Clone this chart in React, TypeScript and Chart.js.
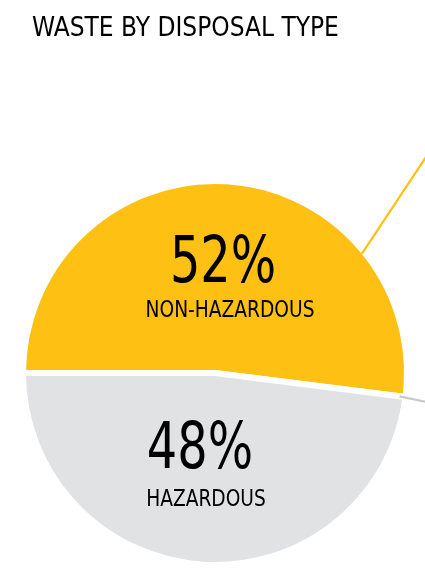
import React, { useEffect, useRef } from "react";
import { Chart, registerables } from "chart.js";

Chart.register(...registerables);

const title = "WASTE BY DISPOSAL TYPE";
const categories = ["NON-HAZARDOUS", "HAZARDOUS"];
const shares = [52, 48];
const colors = ["#FDC013", "#E1E2E4"];
const leaderColors = ["#FDC013", "#C9CACC"];

const FONT = '"Liberation Sans Narrow", "DejaVu Sans Condensed", "Roboto", sans-serif';

function drawNarrow(ctx: any, text: string, x: number, y: number, sx: number) {
  ctx.save();
  ctx.translate(x, y);
  ctx.scale(sx, 1);
  ctx.fillText(text, 0, 0);
  ctx.restore();
}

const labelPlugin = {
  id: "sliceLabels",
  afterDatasetsDraw(chart: any, _a: any, opts: any) {
    const ctx = chart.ctx;
    const meta = chart.getDatasetMeta(0);
    meta.data.forEach((arc: any, i: number) => {
      const p = arc.tooltipPosition();
      const o = opts.offsets[i];
      ctx.save();
      ctx.fillStyle = "#000";
      ctx.textAlign = "center";
      ctx.textBaseline = "alphabetic";
      ctx.font = `64px ${FONT}`;
      drawNarrow(ctx, `${shares[i]}%`, p.x + o.num, p.y + o.numY, 0.83);
      ctx.font = `23px ${FONT}`;
      drawNarrow(ctx, categories[i], p.x + o.cat, p.y + o.catY, 0.9);
      ctx.restore();
    });
  },
};

// leader lines: start at a fraction along each arc's outer edge, head off in a direction
const leaderPlugin = {
  id: "leaders",
  afterDatasetsDraw(chart: any, _args: any, opts: any) {
    const ctx = chart.ctx;
    const meta = chart.getDatasetMeta(0);
    (opts.lines || []).forEach((l: any) => {
      const arc = meta.data[l.index];
      if (!arc) return;
      const { x, y, startAngle, endAngle, outerRadius } = arc.getProps(
        ["x", "y", "startAngle", "endAngle", "outerRadius"],
        true
      );
      const a = startAngle + (endAngle - startAngle) * l.fraction;
      const r = outerRadius + l.radiusOffset;
      const sx = x + Math.cos(a) * r;
      const sy = y + Math.sin(a) * r;
      const d = (l.direction * Math.PI) / 180;
      ctx.save();
      ctx.strokeStyle = leaderColors[l.index];
      ctx.lineWidth = 2.2;
      ctx.beginPath();
      ctx.moveTo(sx, sy);
      ctx.lineTo(sx + Math.cos(d) * 400, sy + Math.sin(d) * 400);
      ctx.stroke();
      ctx.restore();
    });
  },
};

export default function App() {
  const ref = useRef<HTMLCanvasElement | null>(null);
  useEffect(() => {
    if (!ref.current) return;
    const chart = new Chart(ref.current, {
      type: "pie",
      data: {
        labels: categories,
        datasets: [
          {
            data: shares,
            backgroundColor: colors,
            borderColor: "#ffffff",
            borderWidth: 6,
            hoverOffset: 0,
          },
        ],
      },
      options: {
        animation: false,
        responsive: false,
        rotation: -90,
        layout: { padding: { left: 20, right: 15, top: 177, bottom: 2 } },
        plugins: {
          legend: { display: false },
          tooltip: { enabled: false },
          sliceLabels: {
            offsets: [
              { num: 2, numY: 5, cat: 9, catY: 40 },
              { num: -9, numY: -1, cat: -3, catY: 37 },
            ],
          },
          leaders: {
            lines: [
              { index: 0, fraction: 0.753, radiusOffset: -3, direction: -56.5 },
              { index: 1, fraction: 0, radiusOffset: -6, direction: 12 },
            ],
          },
        } as any,
      },
      plugins: [labelPlugin, leaderPlugin],
    });
    return () => chart.destroy();
  }, []);
  return (
    <div style={{ position: "fixed", left: 0, top: 0, width: 425, height: 571, background: "#fff", overflow: "hidden" }}>
      <canvas ref={ref} width={425} height={571} style={{ position: "absolute", left: 0, top: 0, width: 425, height: 571 }} />
      <div
        style={{
          position: "absolute",
          left: 32,
          top: 14,
          fontFamily: FONT,
          fontSize: 26,
          lineHeight: "26px",
          color: "#000",
          whiteSpace: "nowrap",
        }}
      >
        {title}
      </div>
    </div>
  );
}
